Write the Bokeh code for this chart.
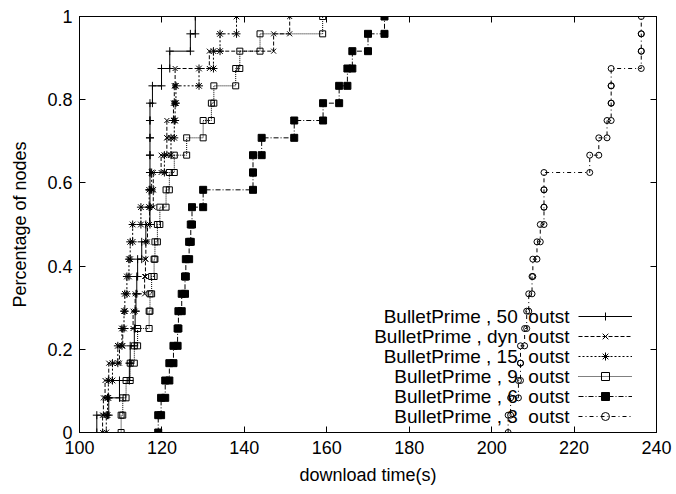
from bokeh.plotting import figure
from bokeh.models import (LinearAxis, FixedTicker, Legend, LegendItem, Label,
                          Range1d, ColumnDataSource)
from bokeh.embed import file_html
from bokeh.resources import INLINE

# ---------------- data (download times in s, sorted, 24 nodes each) ----------
n_nodes = 24
series_names = ["BulletPrime , 50\u00a0 outst", "BulletPrime , dyn\u00a0 outst",
                "BulletPrime , 15\u00a0 outst", "BulletPrime , 9\u00a0 outst",
                "BulletPrime , 6\u00a0 outst", "BulletPrime , 3\u00a0 outst"]

t_50 = [104.2, 107.1, 109.7, 112.1, 112.3, 113.3, 113.5, 113.7, 113.9, 114.1,
        115.1, 116.1, 117.1, 117.1, 117.1, 117.1, 117.1, 117.1, 117.1, 117.7,
        119.9, 121.9, 126.9, 128.1]
t_dyn = [105.6, 105.8, 106.2, 107.1, 109.7, 110.5, 113.0, 113.5, 115.8, 116.0,
         116.1, 116.5, 117.0, 117.9, 117.9, 119.8, 121.2, 121.2, 122.8, 123.0,
         123.2, 131.5, 147.1, 151.0]
t_15 = [106.5, 106.8, 107.0, 108.0, 109.3, 110.3, 110.8, 111.0, 111.5, 112.0,
        112.3, 112.9, 114.9, 116.9, 117.5, 120.6, 122.2, 123.0, 123.2, 123.4,
        129.0, 132.5, 134.1, 138.1]
t_9 = [110.1, 110.5, 111.3, 112.3, 113.3, 114.1, 116.9, 117.1, 117.5, 118.1,
       118.3, 118.9, 119.5, 121.0, 121.8, 123.0, 126.0, 130.0, 132.0, 132.6,
       137.9, 138.9, 143.8, 159.0]
t_6 = [119.1, 119.8, 120.8, 121.8, 122.8, 123.8, 124.0, 124.8, 125.6, 125.8,
       126.6, 127.0, 127.3, 130.0, 142.1, 142.1, 144.2, 152.1, 159.1, 163.0,
       165.0, 166.2, 170.0, 174.0]
t_3 = [204.0, 204.6, 206.5, 207.0, 207.0, 208.0, 208.5, 209.0, 209.8, 210.0,
       211.0, 211.8, 212.7, 212.7, 212.7, 223.8, 226.0, 228.0, 229.0, 229.0,
       229.0, 236.3, 236.3, 236.3]

x_ticks = [100, 120, 140, 160, 180, 200, 220, 240]
y_ticks = [0, 0.2, 0.4, 0.6, 0.8, 1]

# ---------------- styles ----------------
styles = [
    dict(dash="solid", marker="cross", size=8, fill=None),
    dict(dash="4 2", marker="x", size=7, fill=None),
    dict(dash="2 2", marker="asterisk", size=8, fill=None),
    dict(dash="1 1", marker="square", size=6, fill=None),
    dict(dash="5 2 1 2", marker="square", size=7, fill="black"),
    dict(dash="4 3 1 3", marker="circle", size=6, fill=None),
]
all_times = [t_50, t_dyn, t_15, t_9, t_6, t_3]

FONT = "Liberation Sans"
FS = "18px"
LEG_FS = "19px"

p = figure(width=676, height=494, output_backend="svg", toolbar_location=None,
           x_range=Range1d(100, 240), y_range=Range1d(0, 1),
           min_border_left=79, min_border_right=20, min_border_top=16,
           min_border_bottom=62, x_axis_label="download time(s)",
           y_axis_label="Percentage of nodes")
p.grid.visible = False
p.outline_line_color = "black"
p.outline_line_width = 1
p.background_fill_color = "white"
p.border_fill_color = "white"

for ax, ticks in ((p.xaxis[0], x_ticks), (p.yaxis[0], y_ticks)):
    ax.ticker = FixedTicker(ticks=ticks)
    ax.major_tick_in = 6
    ax.major_tick_out = 0
    ax.minor_tick_line_color = None
    ax.axis_line_color = "black"
    ax.major_label_text_font = FONT
    ax.major_label_text_font_size = FS
    ax.major_label_text_color = "black"
    ax.axis_label_text_font = FONT
    ax.axis_label_text_font_size = FS
    ax.axis_label_text_font_style = "normal"
    ax.axis_label_text_color = "black"
p.xaxis[0].major_label_standoff = 8
p.xaxis[0].axis_label_standoff = 8
p.yaxis[0].major_label_standoff = 7
p.yaxis[0].axis_label_standoff = 14
p.yaxis[0].major_label_overrides = {0: "0", 1: "1"}

for side, ticks in (("above", x_ticks), ("right", y_ticks)):
    ax = LinearAxis(ticker=FixedTicker(ticks=ticks), major_tick_in=6,
                    major_tick_out=0, minor_tick_line_color=None,
                    major_label_text_color=None, major_label_standoff=0,
                    axis_line_color="black")
    p.add_layout(ax, side)

items = []
for name, times, st in zip(series_names, all_times, styles):
    xs, ys = [], []
    for i, t in enumerate(times):
        xs += [t, t]
        ys += [i / n_nodes, (i + 1) / n_nodes]
    src = ColumnDataSource(dict(x=xs, y=ys))
    lr = p.line("x", "y", source=src, line_color="black", line_width=1,
                line_dash=st["dash"])
    sr = p.scatter("x", "y", source=src, marker=st["marker"], size=st["size"],
                   line_color="black", line_width=1,
                   fill_color=st["fill"])
    items.append(LegendItem(label=" ", renderers=[lr, sr]))

row_h = 20
leg_y0 = 6
legend = Legend(items=items, location=(499, leg_y0), glyph_width=54,
                glyph_height=row_h, label_height=row_h, label_width=0,
                label_standoff=0, spacing=0, padding=0, margin=0,
                border_line_color=None, background_fill_alpha=0,
                label_text_color=None)
p.add_layout(legend, "center")

for k, name in enumerate(series_names):
    y_c = leg_y0 + row_h * (len(series_names) - k) - row_h / 2
    p.add_layout(Label(x=490, y=y_c, x_units="screen", y_units="screen",
                       text=name, text_align="right", text_baseline="middle",
                       text_font=FONT, text_font_size=LEG_FS,
                       text_color="black"))

open("out.html", "w").write(file_html(p, INLINE))
